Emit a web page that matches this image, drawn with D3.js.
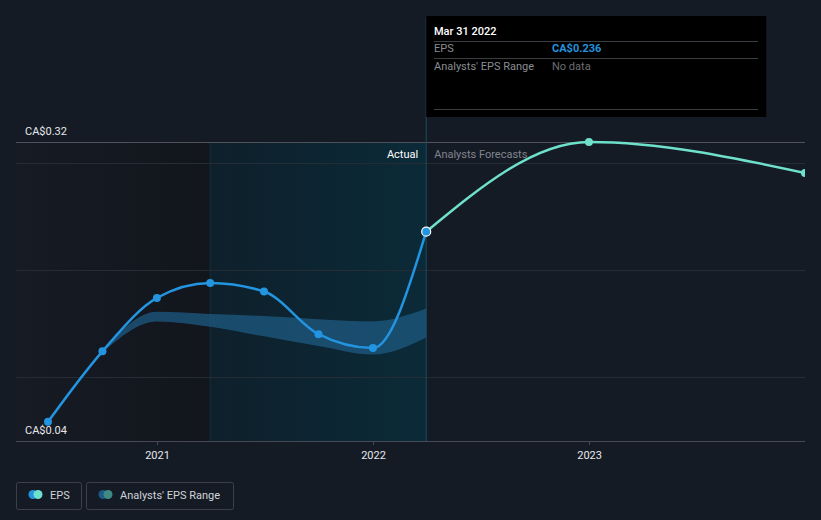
<!DOCTYPE html>
<html><head><meta charset="utf-8">
<script src="https://cdn.jsdelivr.net/npm/d3@7"></script>
<style>
html,body{margin:0;padding:0;background:#151b25;}
svg{display:block;font-family:Roboto,"Open Sans",sans-serif;}
</style></head>
<body>
<svg id="chart" width="821" height="520"></svg>
<script>
// ---- data ----
const epsDates = ["2020-06-30","2020-09-30","2020-12-31","2021-03-31","2021-06-30","2021-09-30","2021-12-31","2022-03-31"];
const epsValues = [0.058,0.124,0.174,0.188,0.180,0.140,0.127,0.236];
const forecastDates = ["2022-03-31","2022-12-31","2023-12-31"];
const forecastValues = [0.236,0.320,0.291];
const rangeDates = ["2020-09-30","2020-12-31","2021-03-31","2021-06-30","2021-09-30","2021-12-31","2022-03-31"];
const rangeLow  = [0.123,0.152,0.147,0.138,0.129,0.121,0.137];
const rangeHigh = [0.125,0.161,0.159,0.157,0.154,0.152,0.164];
const yTickLabels = ["CA$0.04","CA$0.32"];
const yTickValues = [0.04,0.32];
const gridValues = [0.1,0.2,0.3];
const xTickDates = ["2021-01-01","2022-01-01","2023-01-01"];
const xTickLabels = ["2021","2022","2023"];
const highlightStart = "2021-03-31";
const currentDate = "2022-03-31";
const tooltipTitle = "Mar 31 2022";
const tooltipRows = [["EPS","CA$0.236"],["Analysts' EPS Range","No data"]];
const legendItems = ["EPS","Analysts' EPS Range"];

const parse = d3.utcParse("%Y-%m-%d");
const svg = d3.select("#chart");
const pLeft = 16, pRight = 805, pTop = 142, pBottom = 441;

const x = d3.scaleUtc().domain([parse("2020-06-30"), parse("2023-12-31")]).range([48, pRight]);
const y = d3.scaleLinear().domain([0.04, 0.32]).range([pBottom, pTop]);

const defs = svg.append("defs");
const g1 = defs.append("linearGradient").attr("id","pastGrad").attr("x1","0").attr("x2","1");
g1.append("stop").attr("offset","0").attr("stop-color","#161b24");
g1.append("stop").attr("offset","1").attr("stop-color","#12151c");
const g2 = defs.append("linearGradient").attr("id","hlGrad").attr("x1","0").attr("x2","1");
g2.append("stop").attr("offset","0").attr("stop-color","#0e202b");
g2.append("stop").attr("offset","1").attr("stop-color","#0b2a38");
defs.append("clipPath").attr("id","plotClip").append("rect")
  .attr("x",0).attr("y",0).attr("width",pRight).attr("height",520);

const xh = x(parse(highlightStart)), xc = x(parse(currentDate));
svg.append("rect").attr("x",pLeft).attr("y",pTop).attr("width",xh-pLeft).attr("height",pBottom-pTop).attr("fill","url(#pastGrad)");
svg.append("rect").attr("x",xh).attr("y",pTop).attr("width",xc-xh).attr("height",pBottom-pTop).attr("fill","url(#hlGrad)");
svg.append("line").attr("x1",xh).attr("x2",xh).attr("y1",pTop).attr("y2",pBottom).attr("stroke","#123342").attr("stroke-width",1);

// gridlines
svg.selectAll("line.grid").data(gridValues).join("line").attr("class","grid")
  .attr("x1",pLeft).attr("x2",pRight).attr("y1",d=>Math.round(y(d))+0.5).attr("y2",d=>Math.round(y(d))+0.5)
  .attr("stroke","#262c36").attr("stroke-width",1);
svg.append("line").attr("x1",pLeft).attr("x2",pRight).attr("y1",Math.round(y(0.32))+0.5).attr("y2",Math.round(y(0.32))+0.5)
  .attr("stroke","#4d525b").attr("stroke-width",1);

// current vertical line
svg.append("line").attr("x1",xc).attr("x2",xc).attr("y1",17).attr("y2",pBottom).attr("stroke","#1c4b5e").attr("stroke-width",1);

// x axis
const xAxis = svg.append("g").attr("transform",`translate(0,${pBottom})`);
xAxis.append("line").attr("x1",pLeft).attr("x2",pRight).attr("y1",0.5).attr("y2",0.5).attr("stroke","#454a54");
const xt = xAxis.selectAll("g.tick").data(xTickDates).join("g").attr("transform",d=>`translate(${x(parse(d))},0)`);
xt.append("line").attr("y1",0).attr("y2",4).attr("stroke","#454a54");
xt.append("text").attr("y",18).attr("text-anchor","middle").attr("fill","#e6e8eb").attr("font-size",11).text((d,i)=>xTickLabels[i]);

// y labels
svg.selectAll("text.ylab").data(yTickValues).join("text").attr("class","ylab")
  .attr("x",25).attr("y",d=>y(d)-7).attr("fill","#e6e8eb").attr("font-size",11).text((d,i)=>yTickLabels[i]);

const plot = svg.append("g").attr("clip-path","url(#plotClip)");

// range band
const rangeData = rangeDates.map((d,i)=>({d:parse(d),lo:rangeLow[i],hi:rangeHigh[i]}));
plot.append("path").datum(rangeData)
  .attr("d", d3.area().x(d=>x(d.d)).y0(d=>y(d.lo)).y1(d=>y(d.hi)).curve(d3.curveMonotoneX))
  .attr("fill","#1d5a82").attr("fill-opacity",0.75);

// EPS actual
const epsData = epsDates.map((d,i)=>({d:parse(d),v:epsValues[i]}));
const line = d3.line().x(d=>x(d.d)).y(d=>y(d.v)).curve(d3.curveMonotoneX);
plot.append("path").datum(epsData).attr("d",line).attr("fill","none").attr("stroke","#2394df").attr("stroke-width",2.5);
plot.selectAll("circle.eps").data(epsData.slice(0,-1)).join("circle").attr("class","eps")
  .attr("cx",d=>x(d.d)).attr("cy",d=>y(d.v)).attr("r",4).attr("fill","#2394df");

// forecast
const fcData = forecastDates.map((d,i)=>({d:parse(d),v:forecastValues[i]}));
plot.append("path").datum(fcData).attr("d",d3.line().x(d=>x(d.d)).y(d=>y(d.v)).curve(d3.curveMonotoneX))
  .attr("fill","none").attr("stroke","#6ee0cb").attr("stroke-width",2.5);
plot.selectAll("circle.fc").data(fcData.slice(1)).join("circle").attr("class","fc")
  .attr("cx",d=>x(d.d)).attr("cy",d=>y(d.v)).attr("r",4).attr("fill","#6ee0cb");
const last = epsData[epsData.length-1];
plot.append("circle").attr("cx",x(last.d)).attr("cy",y(last.v)).attr("r",4.5).attr("fill","#2394df").attr("stroke","#ffffff").attr("stroke-width",1.2);

// Actual / Forecast labels
svg.append("text").attr("x",xc-8).attr("y",158).attr("text-anchor","end").attr("fill","#ffffff").attr("font-size",11).text("Actual");
svg.append("text").attr("x",xc+8).attr("y",158).attr("fill","#80858d").attr("font-size",11).text("Analysts Forecasts");

// tooltip
const tt = svg.append("g");
tt.append("rect").attr("x",xc).attr("y",16).attr("width",340).attr("height",101).attr("fill","#000000");
tt.append("text").attr("x",434).attr("y",35).attr("fill","#ffffff").attr("font-size",11).attr("font-weight",500).text(tooltipTitle);
[41,58,109].forEach(yy=>tt.append("line").attr("x1",434).attr("x2",758).attr("y1",yy+0.5).attr("y2",yy+0.5).attr("stroke","#3a3d42"));
tooltipRows.forEach((r,i)=>{
  const yy = 52 + i*18;
  tt.append("text").attr("x",434).attr("y",yy).attr("fill","#8a8d92").attr("font-size",11).text(r[0]);
  tt.append("text").attr("x",552).attr("y",yy).attr("fill",i===0?"#2394df":"#6b6e73").attr("font-size",11).attr("font-weight",i===0?700:400).text(r[1]);
});

// legend
const lg = svg.append("g");
const boxes = [{x:16,w:65,c1:"#2394df",c2:"#6ee0cb"},{x:86,w:147,c1:"#1f5a85",c2:"#3f8a85"}];
boxes.forEach((b,i)=>{
  lg.append("rect").attr("x",b.x+0.5).attr("y",482.5).attr("width",b.w).attr("height",27).attr("rx",2).attr("fill","none").attr("stroke","#3b404a");
  lg.append("circle").attr("cx",b.x+17).attr("cy",494.5).attr("r",4.5).attr("fill",b.c1);
  lg.append("circle").attr("cx",b.x+22).attr("cy",494.5).attr("r",4.5).attr("fill",b.c2);
  lg.append("text").attr("x",b.x+34).attr("y",498.5).attr("fill","#d0d3d8").attr("font-size",11).text(legendItems[i]);
});
</script>
</body></html>
